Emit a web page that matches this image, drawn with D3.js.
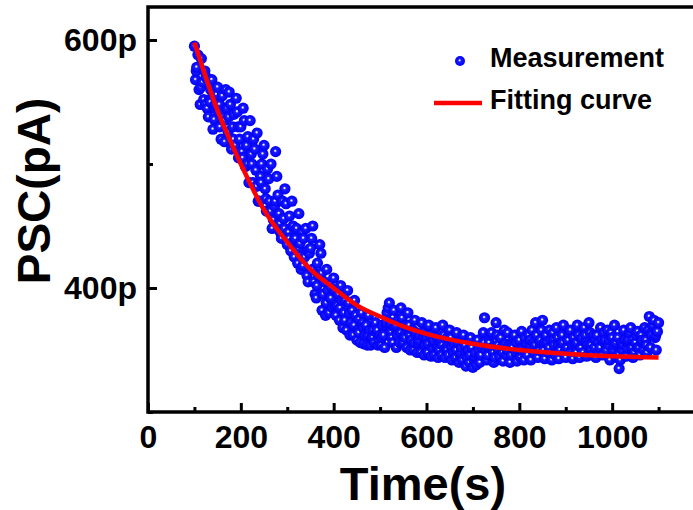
<!DOCTYPE html>
<html>
<head>
<meta charset="utf-8">
<script src="https://cdn.jsdelivr.net/npm/d3@7"></script>
<style>
  body { margin: 0; background: #fff; }
  svg text { font-family: "Liberation Sans", Arial, sans-serif; font-weight: bold; fill: #000; }
</style>
</head>
<body>
<svg id="chart" width="693" height="510"></svg>
<script>
const startA = 100, stepA = 5;
const measuredA = [
  595, 578, 560, 585, 552, 570, 538, 560, 528, 548,
  562, 530, 555, 518, 545, 558, 512, 540, 553, 505,
  530, 545, 498, 522, 535, 485, 512, 525, 470, 500,
  515, 462, 488, 500, 455, 510, 475, 445, 470, 480,
  435, 458, 470, 425, 448, 460, 415, 440, 448, 405,
  432, 450, 395, 420, 435, 382, 405, 415, 380, 400,
  408, 378, 395, 402, 368, 390, 398, 362, 382, 390,
  358, 375, 380, 355, 370, 378, 354, 366, 372, 354,
  362, 370, 352, 380, 388, 360, 382, 352, 375, 384,
  356, 370, 380, 350, 366, 374, 348, 362, 372, 346,
  360, 370, 345, 358, 368, 344, 356, 370, 344, 360,
  366, 342, 355, 364, 340, 352, 362, 337, 350, 360,
  336, 348, 358, 340, 352, 376, 342, 356, 364, 340,
  372, 350, 360, 341, 355, 364, 340, 352, 362, 341,
  358, 365, 342, 354, 362, 342, 356, 372, 344, 358,
  374, 343, 356, 366, 342, 354, 368, 343, 356, 370,
  344, 358, 366, 343, 355, 370, 344, 360, 368, 345,
  372, 350, 362, 344, 356, 368, 346, 358, 366, 342,
  360, 370, 344, 335, 356, 366, 345, 358, 368, 344,
  356, 365, 346, 358, 368, 348, 377, 362, 374, 350,
  372
];
const startB = 102.5, stepB = 5;
const measuredB = [
  568, 588, 548, 566, 575, 545, 552, 568, 536, 556,
  542, 520, 538, 560, 526, 548, 530, 515, 542, 520,
  510, 535, 515, 485, 508, 520, 495, 470, 490, 508,
  480, 496, 470, 448, 466, 490, 460, 440, 456, 468,
  445, 430, 450, 440, 420, 436, 445, 425, 410, 428,
  440, 405, 392, 410, 428, 395, 378, 398, 392, 384,
  398, 386, 374, 390, 380, 366, 388, 372, 362, 378,
  366, 356, 372, 362, 354, 366, 360, 356, 364, 358,
  354, 362, 370, 384, 372, 356, 368, 362, 356, 376,
  362, 352, 370, 358, 350, 364, 356, 348, 364, 354,
  348, 362, 352, 346, 360, 350, 346, 362, 352, 346,
  360, 348, 344, 356, 346, 342, 354, 344, 340, 352,
  342, 338, 350, 346, 364, 350, 346, 362, 352, 344,
  362, 345, 352, 366, 346, 354, 346, 360, 348, 350,
  344, 352, 360, 346, 354, 366, 348, 362, 350, 366,
  350, 362, 348, 358, 364, 346, 360, 350, 362, 348,
  352, 364, 350, 360, 348, 362, 352, 348, 362, 354,
  364, 346, 352, 362, 348, 358, 364, 350, 354, 364,
  350, 356, 360, 342, 350, 358, 352, 364, 352, 348,
  362, 352, 362, 350, 358, 366, 352, 370, 360, 365
];
const startC = 104, stepC = 10;
const measuredC = [
  575, 562, 548, 550, 545, 548, 535, 538, 520, 530,
  505, 500, 500, 482, 485, 472, 462, 470, 452, 448,
  440, 438, 432, 418, 430, 415, 402, 412, 388, 392,
  385, 384, 374, 380, 370, 364, 368, 362, 360, 366,
  360, 372, 364, 370, 364, 360, 362, 356, 358, 360,
  355, 356, 352, 354, 350, 352, 350, 348, 346, 346,
  345, 344, 356, 352, 348, 354, 348, 350, 354, 356,
  350, 348, 358, 354, 356, 356, 352, 358, 354, 356,
  358, 354, 356, 358, 356, 354, 358, 352, 356, 358,
  354, 346, 354, 356, 358, 352, 356, 354, 364, 362
];

// exponential fit
const fitTime  = [100, 150, 200, 250, 300, 350, 400, 450, 500, 550, 600, 700, 800, 900, 1000, 1100];
const fitValue = [598, 543, 500, 463, 437, 415, 400, 386, 377, 369, 363, 355, 350, 347, 345, 344];

const xMajor = [0, 200, 400, 600, 800, 1000];
const xMinor = [100, 300, 500, 700, 900, 1100];
const yMajor = [400, 600];
const yMinor = [300, 500];

const legendLabels = ["Measurement", "Fitting curve"];

const svg = d3.select("#chart");

const plotLeft = 148, plotRight = 705, plotTop = 7, plotBottom = 412;

const x = d3.scaleLinear().domain([0, 1200]).range([plotLeft, plotRight]);
const y = d3.scaleLinear().domain([300, 626.6]).range([plotBottom, plotTop]);

// ball marker
const grad = svg.append("defs").append("radialGradient")
  .attr("id", "ball")
  .attr("cx", "50%").attr("cy", "50%").attr("r", "50%")
  .attr("fx", "45%").attr("fy", "42%");
grad.append("stop").attr("offset", "0%").attr("stop-color", "#ffffff");
grad.append("stop").attr("offset", "10%").attr("stop-color", "#e0e0ff");
grad.append("stop").attr("offset", "30%").attr("stop-color", "#1a1aff");
grad.append("stop").attr("offset", "100%").attr("stop-color", "#0000f5");

// axes (ticks inward)
const xAxis = svg.append("g").attr("transform", `translate(0,${plotBottom})`)
  .call(d3.axisBottom(x).tickValues(xMajor).tickSize(-9).tickPadding(13).tickFormat(d3.format("d")));
const xAxisMinor = svg.append("g").attr("transform", `translate(0,${plotBottom})`)
  .call(d3.axisBottom(x).tickValues(xMinor).tickSize(-5).tickFormat(""));
const yAxis = svg.append("g").attr("transform", `translate(${plotLeft},0)`)
  .call(d3.axisLeft(y).tickValues(yMajor).tickSize(-9).tickPadding(11).tickFormat(d => d + "p"));
const yAxisMinor = svg.append("g").attr("transform", `translate(${plotLeft},0)`)
  .call(d3.axisLeft(y).tickValues(yMinor).tickSize(-5).tickFormat(""));

[xAxis, xAxisMinor, yAxis, yAxisMinor].forEach(g => {
  g.select(".domain").remove();
  g.selectAll("line").attr("stroke", "#000").attr("stroke-width", 3);
  g.selectAll("text").style("font-size", "32px").attr("fill", "#000");
});

// frame
svg.append("rect")
  .attr("x", plotLeft).attr("y", plotTop)
  .attr("width", plotRight - plotLeft).attr("height", plotBottom - plotTop)
  .attr("fill", "none").attr("stroke", "#000").attr("stroke-width", 3.5);

// measurement points
let points = [];
measuredA.forEach((v, i) => points.push({ t: startA + i * stepA, v: v }));
measuredB.forEach((v, i) => points.push({ t: startB + i * stepB, v: v }));
measuredC.forEach((v, i) => points.push({ t: startC + i * stepC, v: v }));
points.sort((a, b) => a.t - b.t);

svg.append("g").selectAll("circle")
  .data(points)
  .enter()
  .append("circle")
  .attr("cx", d => x(d.t))
  .attr("cy", d => y(d.v))
  .attr("r", 5.6)
  .attr("fill", "url(#ball)");

// fitting curve
const line = d3.line()
  .x((d, i) => x(fitTime[i]))
  .y(d => y(d))
  .curve(d3.curveMonotoneX);

svg.append("path")
  .datum(fitValue)
  .attr("d", line)
  .attr("fill", "none")
  .attr("stroke", "#ff0000")
  .attr("stroke-width", 4.5);

// axis titles
svg.append("text")
  .attr("x", 423).attr("y", 500)
  .attr("text-anchor", "middle")
  .style("font-size", "47px")
  .text("Time(s)");

svg.append("text")
  .attr("transform", "translate(50,191) rotate(-90)")
  .attr("text-anchor", "middle")
  .style("font-size", "46px")
  .text("PSC(pA)");

// legend
const legend = svg.append("g").attr("id", "legend");
legend.append("circle")
  .attr("cx", 460).attr("cy", 61).attr("r", 5)
  .attr("fill", "url(#ball)");
legend.append("line")
  .attr("x1", 434).attr("x2", 482).attr("y1", 103).attr("y2", 103)
  .attr("stroke", "#ff0000").attr("stroke-width", 4.5);
legend.selectAll("text.lab")
  .data(legendLabels)
  .enter()
  .append("text")
  .attr("class", "lab")
  .attr("x", 490)
  .attr("y", (d, i) => 67 + i * 42)
  .style("font-size", "27px")
  .text(d => d);
</script>
</body>
</html>
